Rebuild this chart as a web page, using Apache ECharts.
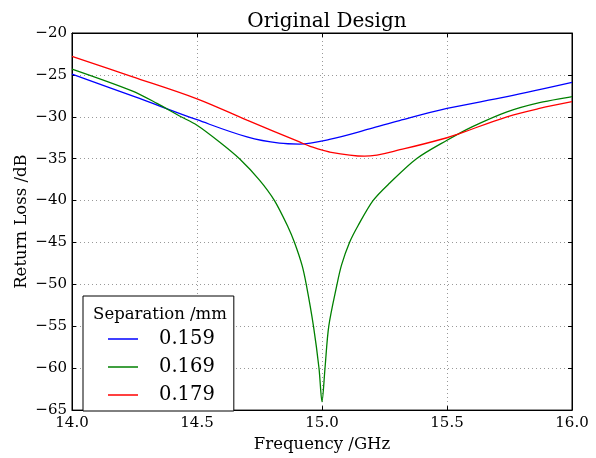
<!DOCTYPE html>
<html>
<head>
<meta charset="utf-8">
<script src="https://cdn.jsdelivr.net/npm/echarts@6/dist/echarts.min.js"></script>
<style>
html,body{margin:0;padding:0;background:#fff;}
#chart{width:596px;height:458px;}
</style>
</head>
<body>
<div id="chart"></div>
<script>
// values (frequency in GHz, return loss in dB)
var seriesNames = ['0.159', '0.169', '0.179'];

var freq159 = [14.0, 14.25, 14.5, 14.7, 14.83, 14.91, 15.03, 15.19, 15.31, 15.5, 15.74, 16.0];
var loss159 = [-24.9, -27.6, -30.35, -32.4, -33.15, -33.25, -32.7, -31.45, -30.45, -29.0, -27.6, -25.9];

var freq169 = [14.0, 14.24, 14.34, 14.43, 14.5, 14.59, 14.67, 14.75, 14.81, 14.865, 14.89, 14.92, 14.937, 14.966, 14.988, 15.0,
               15.012, 15.027, 15.06, 15.078, 15.11, 15.144, 15.204, 15.271, 15.378, 15.5, 15.6, 15.74, 15.87, 16.0];
var loss169 = [-24.3, -26.9, -28.4, -29.9, -31.0, -33.0, -35.0, -37.55, -40.0, -43.2, -45.0, -47.7, -50.0, -55.0, -60.0, -64.0,
               -60.0, -55.0, -50.0, -47.7, -45.0, -43.0, -40.0, -37.9, -35.0, -32.8, -31.2, -29.4, -28.3, -27.6];

var freq179 = [14.0, 14.24, 14.5, 14.7, 14.91, 14.95, 15.03, 15.17, 15.33, 15.5, 15.55, 15.74, 15.87, 16.0];
var loss179 = [-22.8, -25.2, -27.85, -30.4, -33.0, -33.5, -34.2, -34.7, -33.8, -32.5, -32.0, -30.0, -29.0, -28.2];

var lineColors = ['#0000ff', '#008000', '#ff0000'];

function pairs(xs, ys) {
    var out = [];
    for (var i = 0; i < xs.length; i++) {
        out.push([xs[i], ys[i]]);
    }
    return out;
}

var FONT = 'DejaVu Serif';

var myChart = echarts.init(document.getElementById('chart'));
var option = {
    animation: false,
    backgroundColor: '#fff',
    textStyle: {fontFamily: FONT, color: '#000'},
    title: [
        {
            text: 'Original Design',
            left: 322, top: 7,
            textAlign: 'center',
            textStyle: {fontFamily: FONT, fontSize: 20, fontWeight: 'normal', color: '#000'}
        },
        {
            text: 'Separation /mm',
            left: 155, top: 301,
            textAlign: 'center',
            textStyle: {fontFamily: FONT, fontSize: 16.5, fontWeight: 'normal', color: '#000'}
        }
    ],
    grid: {
        left: 72, right: 24, top: 33, bottom: 40,
        show: true,
        borderColor: '#000',
        borderWidth: 1
    },
    legend: {
        data: seriesNames,
        orient: 'vertical',
        left: 83, top: 296,
        padding: [32, 19, 5, 25],
        itemGap: 6,
        itemWidth: 30,
        itemHeight: 1.5,
        icon: 'rect',
        borderColor: '#000',
        borderWidth: 1,
        borderRadius: 0,
        backgroundColor: '#fff',
        textStyle: {fontFamily: FONT, fontSize: 19.5, color: '#000', padding: [0, 0, 0, 16], lineHeight: 22}
    },
    xAxis: [
        {
            type: 'value',
            min: 14, max: 16, interval: 0.5,
            name: 'Frequency /GHz',
            nameLocation: 'middle',
            nameGap: 25,
            nameTextStyle: {fontFamily: FONT, fontSize: 16.5, color: '#000'},
            axisLine: {show: true, lineStyle: {color: '#000'}},
            axisTick: {show: true, inside: true, length: 4, lineStyle: {color: '#000'}},
            axisLabel: {
                fontFamily: FONT, fontSize: 15, color: '#000', margin: 6,
                formatter: function (v) { return v.toFixed(1); }
            },
            splitLine: {show: true, lineStyle: {color: '#999', type: [1, 3]}}
        },
        {
            type: 'value', position: 'top',
            min: 14, max: 16, interval: 0.5,
            axisLine: {show: true, lineStyle: {color: '#000'}},
            axisTick: {show: true, inside: true, length: 4, lineStyle: {color: '#000'}},
            axisLabel: {show: false},
            splitLine: {show: false}
        }
    ],
    yAxis: [
        {
            type: 'value',
            min: -65, max: -20, interval: 5,
            name: 'Return Loss /dB',
            nameLocation: 'middle',
            nameGap: 42,
            nameMoveOverlap: false,
            nameRotate: 90,
            nameTextStyle: {fontFamily: FONT, fontSize: 16.5, color: '#000'},
            axisLine: {show: true, lineStyle: {color: '#000'}},
            axisTick: {show: true, inside: true, length: 4, lineStyle: {color: '#000'}},
            axisLabel: {
                fontFamily: FONT, fontSize: 15, color: '#000', margin: 5,
                formatter: function (v) { return String(v).replace('-', '\u2212'); }
            },
            splitLine: {show: true, lineStyle: {color: '#999', type: [1, 3]}}
        },
        {
            type: 'value', position: 'right',
            min: -65, max: -20, interval: 5,
            axisLine: {show: true, lineStyle: {color: '#000'}},
            axisTick: {show: true, inside: true, length: 4, lineStyle: {color: '#000'}},
            axisLabel: {show: false},
            splitLine: {show: false}
        }
    ],
    series: [
        {
            name: seriesNames[0], type: 'line', symbol: 'none', smooth: 0.35,
            color: lineColors[0], lineStyle: {width: 1.3},
            data: pairs(freq159, loss159)
        },
        {
            name: seriesNames[1], type: 'line', symbol: 'none', smooth: 0.3,
            color: lineColors[1], lineStyle: {width: 1.3},
            data: pairs(freq169, loss169)
        },
        {
            name: seriesNames[2], type: 'line', symbol: 'none', smooth: 0.35,
            color: lineColors[2], lineStyle: {width: 1.3},
            data: pairs(freq179, loss179)
        }
    ]
};
myChart.setOption(option);
</script>
</body>
</html>
